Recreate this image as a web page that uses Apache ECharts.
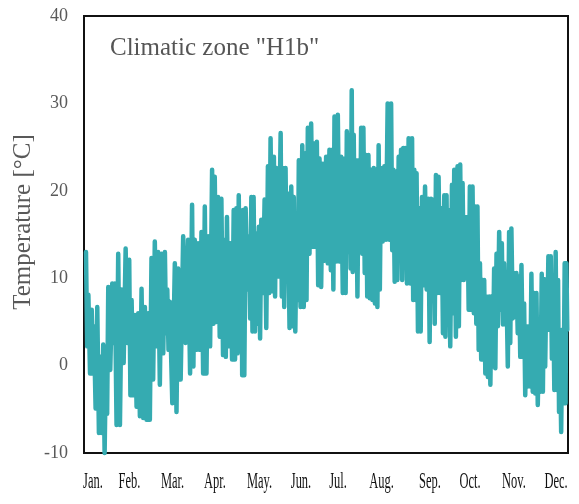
<!DOCTYPE html>
<html>
<head>
<meta charset="utf-8">
<script src="https://cdn.jsdelivr.net/npm/echarts@6/dist/echarts.min.js"></script>
<style>
  html, body { margin: 0; padding: 0; background: #fff; }
  #chart { width: 579px; height: 504px; }
</style>
</head>
<body>
<div id="chart"></div>
<script>
// ---- data ----
const titleText = 'Climatic zone "H1b"';
const yAxisTitle = 'Temperature [°C]';
const monthLabels = ['Jan.', 'Feb.', 'Mar.', 'Apr.', 'May.', 'Jun.', 'Jul.', 'Aug.', 'Sep.', 'Oct.', 'Nov.', 'Dec.'];
const yTicks = [-10, 0, 10, 20, 30, 40];

// day of year of each sample
const sampleDay = [
  1.5, 3.3, 5.8, 7.5, 10.0, 12.5, 14.5, 16.6, 18.3, 21.3, 23.3, 25.8, 28.4, 31.4, 34.1, 35.9, 38.4, 40.9, 43.4, 45.9, 48.4, 50.9, 53.4, 55.9, 58.5, 61.0,
  62.8,
  64.7, 68.5, 71.0, 74.8, 78.5, 81.5, 83.5, 86.0, 88.6, 91.1, 93.6, 96.6, 98.6, 101.1, 103.6, 106.1, 107.8, 110.4, 112.9, 114.9, 116.7, 118.7,
  119.9, 121.9, 124.4, 126.2, 127.9, 130.0, 131.9, 133.7, 136.2, 138.7, 140.7, 143.2, 145.0, 148.3, 150.0, 152.0, 153.7, 156.3, 158.2, 160.5, 162.0, 164.6, 166.8, 168.8, 171.3, 173.9, 175.6, 177.6, 180.1,
  182.6, 185.1, 187.2, 188.9, 191.4, 193.9, 196.4, 198.2, 200.2, 201.9, 203.4, 205.2, 207.2, 209.0, 210.7, 212.7, 214.5, 216.5, 218.5, 220.3, 222.2, 224.0, 226.5, 229.0, 231.6, 233.3, 235.3, 237.3, 239.1, 240.8,
  242.3, 244.8, 247.4, 249.1, 250.8, 252.9, 254.9, 257.2, 259.6, 261.7, 263.6, 265.4, 267.4, 269.7, 271.7, 273.4, 274.9, 277.5, 279.2, 281.7, 283.7, 285.5, 287.3, 289.2, 291.0, 293.0, 295.0, 296.7, 298.6, 300.5,
  301.8, 303.5, 305.6, 307.3, 309.3, 311.1, 313.1, 315.1, 316.8, 318.6, 320.6, 322.3, 324.4, 326.1, 328.1, 329.9, 331.9, 333.6, 335.7, 337.4, 339.4, 341.2, 343.2, 345.2, 346.9, 348.7, 350.2, 352.0, 353.7, 355.7, 357.5, 359.0, 360.7, 362.5, 363.8
];
// daily peak temperature [°C]
const dailyHigh = [
  13.0, 8.1, 6.4, 4.5, 6.7, 1.0, 2.4, 1.4, 9.0, 9.4, 9.4, 12.8, 8.7, 13.4, 12.1, 7.5, 5.8, 6.0, 8.8, 6.7, 6.0, 12.3, 14.2, 13.0, 12.8, 13.0,
  8.7,
  7.3, 11.7, 11.1, 14.8, 14.4, 18.4, 14.4, 14.0, 15.3, 18.2, 14.8, 22.4, 21.6, 19.3, 19.1, 14.4, 17.0, 14.0, 17.8, 18.0, 19.5, 17.6,
  17.8, 18.0, 14.8, 19.3, 19.3, 15.1, 15.9, 16.7, 19.0, 22.8, 26.0, 23.9, 22.6, 26.6, 22.6, 22.6, 19.7, 20.5, 19.3, 16.7, 23.5, 25.2, 24.3, 27.2, 27.7, 25.4, 25.6, 23.7, 23.1,
  23.9, 24.7, 24.7, 28.5, 28.7, 23.9, 23.7, 26.8, 26.4, 31.5, 26.4, 23.5, 23.5, 27.2, 27.2, 24.1, 24.1, 22.4, 22.6, 22.4, 25.2, 22.6, 22.8, 30.0, 30.0, 22.4, 22.2, 23.9, 24.7, 24.9,
  24.9, 26.0, 26.0, 22.4, 22.0, 18.0, 19.3, 20.5, 19.1, 19.1, 19.0, 21.8, 21.6, 18.0, 19.5, 19.5, 17.8, 20.7, 22.4, 22.8, 23.0, 20.9, 17.0, 17.0, 20.5, 20.5, 18.2, 18.2, 11.7, 9.8,
  9.8, 7.9, 7.9, 7.9, 11.1, 12.8, 15.3, 14.0, 11.7, 9.0, 15.3, 15.7, 10.6, 10.6, 10.2, 11.5, 7.1, 4.5, 4.5, 10.5, 8.3, 8.3, 4.1, 10.5, 9.9, 9.8, 12.5, 12.5, 10.2, 13.0, 9.8, 1.4, 4.1, 11.7, 11.7
];
// daily low temperature [°C]
const dailyLow = [
  2.2, -0.9, -0.9, -4.9, -7.7, -7.7, -10.0, -5.5, -0.5, 2.6, -6.8, -6.8, 0.3, 2.6, -3.4, -3.4, -4.7, -5.8, -6.0, -6.2, -6.2, -1.6, 2.2, -2.2, 1.4, 3.7,
  1.8,
  -4.3, -5.3, -1.6, 2.6, -0.9, -0.1, 1.8, 1.8, -0.9, -0.9, 2.2, 4.8, 5.0, 3.3, 1.2, 1.0, 2.2, 0.7, 0.7, 1.4, 2.7, -1.1,
  -1.1, 8.7, 5.4, 3.9, 3.9, 4.8, 3.1, 8.3, 4.3, 8.3, 8.5, 7.9, 10.2, 7.9, 6.7, 9.8, 4.3, 4.5, 3.9, 7.5, 6.7, 6.7, 7.5, 12.8, 13.6, 13.6, 9.2, 9.0, 12.0,
  11.7, 10.9, 8.7, 11.9, 11.9, 8.3, 8.3, 13.0, 11.1, 10.7, 13.0, 7.9, 13.0, 12.8, 10.6, 7.9, 7.7, 7.5, 7.1, 6.7, 8.7, 14.2, 14.4, 14.4, 13.2, 9.6, 9.8, 13.0, 9.8, 13.6,
  9.4, 9.4, 7.5, 7.5, 3.9, 3.9, 9.2, 8.7, 2.7, 8.3, 4.8, 8.3, 8.3, 3.7, 3.3, 7.5, 2.2, 6.0, 3.3, 4.5, 9.8, 9.8, 11.7, 6.4, 6.4, 6.0, 4.8, 1.8, 0.7, 0.7,
  -0.9, -1.3, -2.2, -0.1, -0.3, 4.5, 6.4, 4.7, 4.7, -0.1, 2.6, 5.4, 5.6, 3.7, 1.0, 1.0, -3.4, -2.4, -2.4, -3.0, -3.2, -4.5, -3.0, -3.0, -0.1, 4.5, 4.1, 0.8, -2.8, -2.8, -5.3, -7.6, -4.3, -4.3, 4.1
];

// ---- build the oscillating trace: each day's high, then its low ----
const trace = [];
for (let i = 0; i < sampleDay.length; i++) {
  const next = i < sampleDay.length - 1 ? sampleDay[i + 1] : sampleDay[i] + 1.3;
  trace.push([sampleDay[i], dailyHigh[i]]);
  trace.push([(sampleDay[i] + next) / 2, dailyLow[i]]);
}

const serif = '"Liberation Serif", "Times New Roman", serif';
const monthCenters = [93, 129.5, 172.5, 215, 259.5, 301, 338, 381.5, 430, 470, 514, 556];

const graphics = [
  {
    type: 'text', x: 110, y: 48,
    style: { text: titleText, font: '25px ' + serif, fill: '#555555', align: 'left', verticalAlign: 'middle' }
  },
  {
    type: 'text', x: 23, y: 222, rotation: Math.PI / 2,
    style: { text: yAxisTitle, font: '25px ' + serif, fill: '#595959', align: 'center', verticalAlign: 'middle' }
  }
];
monthLabels.forEach((m, i) => {
  graphics.push({
    type: 'text', x: monthCenters[i], y: 482, scaleX: 0.52,
    style: { text: m, font: '24px ' + serif, fill: '#111111', align: 'center', verticalAlign: 'middle' }
  });
});

const chart = echarts.init(document.getElementById('chart'), null, { renderer: 'canvas' });
chart.setOption({
  animation: false,
  backgroundColor: '#ffffff',
  grid: {
    left: 84, right: 11, top: 16, bottom: 51,
    show: true, borderColor: '#111111', borderWidth: 2, backgroundColor: 'transparent'
  },
  xAxis: {
    type: 'value', min: 0, max: 365,
    axisLine: { show: false }, axisTick: { show: false },
    axisLabel: { show: false }, splitLine: { show: false }
  },
  yAxis: {
    type: 'value', min: yTicks[0], max: yTicks[yTicks.length - 1], interval: 10,
    axisLine: { show: false }, axisTick: { show: false }, splitLine: { show: false },
    axisLabel: { color: '#595959', fontFamily: serif, fontSize: 18, margin: 16 }
  },
  series: [{
    type: 'line',
    data: trace,
    showSymbol: false,
    symbol: 'none',
    sampling: null,
    clip: false,
    lineStyle: { color: '#35abb1', width: 4.5, cap: 'round', join: 'round' },
    z: 1
  }],
  graphic: graphics
});
</script>
</body>
</html>
